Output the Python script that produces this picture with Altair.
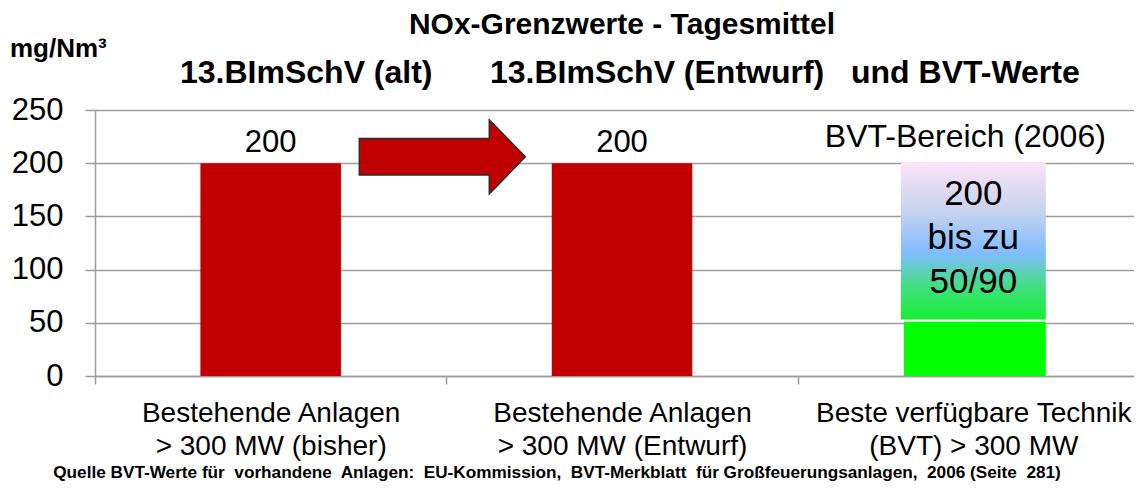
import altair as alt
import pandas as pd

# ---------------- data ----------------
cat_line1 = ["Bestehende Anlagen", "Bestehende Anlagen", "Beste verfügbare Technik"]
cat_line2 = ["> 300 MW (bisher)", "> 300 MW (Entwurf)", "(BVT) > 300 MW"]
categories = [a + "|" + b for a, b in zip(cat_line1, cat_line2)]

red_values = [200, 200]              # 13.BImSchV alt / Entwurf
bvt_upper = [201]                    # top of BVT range band
bvt_lower = [53]                     # bottom of BVT range band
bvt_green = [51]                     # solid green part
bvt_header = ["BVT-Bereich (2006)"]
bvt_text = ["200\nbis zu\n50/90"]
arrow_level = [206]
y_ticks = [0, 50, 100, 150, 200, 250]

title_text = "NOx-Grenzwerte - Tagesmittel"
sub_left = "13.BImSchV (alt)"
sub_mid = "13.BImSchV (Entwurf)"
sub_right = "und BVT-Werte"
unit_text = "mg/Nm³"
source_text = ("Quelle BVT-Werte  für\u00a0 vorhandene\u00a0 Anlagen:\u00a0 EU-Kommission,\u00a0 "
               "BVT-Merkblatt\u00a0 für Großfeuerungsanlagen,\u00a0 2006 (Seite\u00a0 281)")

FONT = "Liberation Sans"
GRAY = "#9d9d9d"
RED = "#c00000"

# ---------------- encodings ----------------
x_scale = alt.Scale(domain=categories, range=[0, 1054], paddingInner=0, paddingOuter=0)
x_axis = alt.Axis(
    title=None, labelAngle=0, labelExpr="split(datum.label, '|')",
    labelFontSize=28, labelLineHeight=33, labelBaseline="alphabetic",
    labelPadding=37, labelLimit=0, labelOverlap=False, labelColor="black",
    tickSize=8, tickBand="extent", tickColor=GRAY, tickWidth=1.5,
    domainColor=GRAY, domainWidth=1.5, grid=False, labelFont=FONT,
)
y_scale = alt.Scale(domain=[0, 250], nice=False)
y_axis = alt.Axis(
    title=None, values=y_ticks, labelFontSize=31, labelPadding=22,
    labelColor="black", tickSize=10, tickColor=GRAY, tickWidth=1.5,
    domainColor=GRAY, domainWidth=1.5, grid=True, gridColor=GRAY,
    gridWidth=1.5, labelFont=FONT,
)


def X(**kw):
    return alt.X("cat:N", scale=x_scale, axis=x_axis, sort=categories, **kw)


def Y():
    return alt.Y("v:Q", scale=y_scale, axis=y_axis)


red_df = pd.DataFrame({"cat": categories[:2], "v": red_values})
red_bars = alt.Chart(red_df).mark_bar(color=RED, width=alt.RelativeBandSize(0.4)).encode(
    x=X(), y=Y()
)
red_labels = alt.Chart(red_df).mark_text(
    dy=-11, baseline="alphabetic", fontSize=31, color="black", font=FONT
).encode(x=X(), y=Y(), text=alt.Text("v:Q"))

grad = alt.Gradient(
    gradient="linear", x1=0, x2=0, y1=0, y2=1,
    stops=[
        alt.GradientStop(color="#fce4f6", offset=0),
        alt.GradientStop(color="#c9d3ee", offset=0.3),
        alt.GradientStop(color="#80bdff", offset=0.58),
        alt.GradientStop(color="#3fe07a", offset=0.8),
        alt.GradientStop(color="#14f035", offset=1),
    ],
)
range_df = pd.DataFrame({"cat": [categories[2]], "v": bvt_lower, "v2": bvt_upper})
range_bar = alt.Chart(range_df).mark_bar(color=grad, width=alt.RelativeBandSize(0.4125)).encode(
    x=X(), y=Y(), y2="v2:Q"
)
green_df = pd.DataFrame({"cat": [categories[2]], "v": bvt_green})
green_bar = alt.Chart(green_df).mark_bar(color="#00ff00", width=alt.RelativeBandSize(0.404),
                                         xOffset=1.5).encode(x=X(), y=Y())

hdr_df = pd.DataFrame({"cat": [categories[2]], "v": [200], "t": bvt_header})
hdr = alt.Chart(hdr_df).mark_text(
    dy=-16, dx=-8, baseline="alphabetic", fontSize=32, color="black", font=FONT
).encode(x=X(), y=Y(), text="t:N")

inner_df = pd.DataFrame({"cat": [categories[2]], "v": [200], "t": bvt_text})
inner = alt.Chart(inner_df).mark_text(
    dy=42, baseline="alphabetic", fontSize=35, lineHeight=44, lineBreak="\n",
    color="black", font=FONT
).encode(x=X(), y=Y(), text="t:N")

arrow_path = ("M -1 -0.22 L 0.566 -0.22 L 0.566 -0.446 L 1 0 L 0.566 0.446 "
              "L 0.566 0.22 L -1 0.22 Z")
arrow_df = pd.DataFrame({"cat": [categories[1]], "v": arrow_level})
arrow = alt.Chart(arrow_df).mark_point(
    shape=arrow_path, size=27556, filled=True, fill=RED, stroke="#2a2a2a",
    strokeWidth=1.5, opacity=1, xOffset=-4
).encode(x=X(bandPosition=0), y=Y())


def label(text, x, y, size, align, weight="bold"):
    return alt.Chart(pd.DataFrame({"t": [text]})).mark_text(
        align=align, baseline="alphabetic", fontSize=size, fontWeight=weight,
        color="black", font=FONT
    ).encode(x=alt.value(x), y=alt.value(y), text="t:N")


texts = [
    label(title_text, 527, -76, 30, "center"),
    label(sub_left, 85, -27, 32, "left"),
    label(sub_mid, 395, -27, 32, "left"),
    label(sub_right, 756, -27, 32, "left"),
    label(unit_text, -85, -53, 26, "left"),
    label(source_text, 462, 368, 17.2, "center"),
]

chart = alt.layer(
    red_bars, range_bar, green_bar, red_labels, hdr, inner, arrow, *texts
).properties(
    width=1039, height=266,
    autosize=alt.AutoSizeParams(type="none"),
    padding={"left": 87, "top": 102, "right": 0, "bottom": 108},
).configure_view(stroke=None).configure(font=FONT)

chart.save("out.html", embed_options={"renderer": "svg", "actions": False})
